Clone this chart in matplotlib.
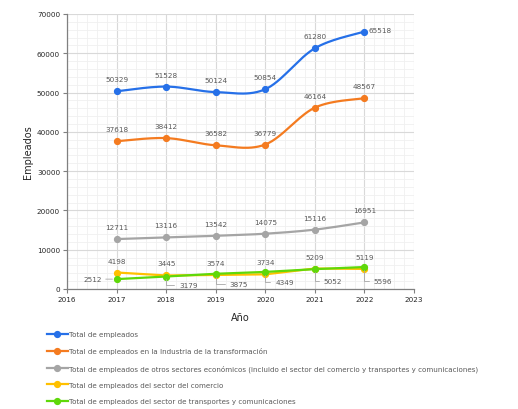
import numpy as np
import matplotlib
matplotlib.use("Agg")
import matplotlib.pyplot as plt
from matplotlib.ticker import MultipleLocator

years = [2017, 2018, 2019, 2020, 2021, 2022]
total = [50329, 51528, 50124, 50854, 61280, 65518]
industria = [37618, 38412, 36582, 36779, 46164, 48567]
otros = [12711, 13116, 13542, 14075, 15116, 16951]
comercio = [4198, 3445, 3574, 3734, 5209, 5119]
transportes = [2512, 3179, 3875, 4349, 5052, 5596]

labels = [
    "Total de empleados",
    "Total de empleados en la Industria de la transformación",
    "Total de empleados de otros sectores económicos (incluido el sector del comercio y transportes y comunicaciones)",
    "Total de empleados del sector del comercio",
    "Total de empleados del sector de transportes y comunicaciones",
]
colors = ["#2670E8", "#F47B20", "#A5A5A5", "#FFC000", "#5FD80A"]


def smooth(x, y, n=30):
    x = np.asarray(x, float)
    y = np.asarray(y, float)
    P = np.column_stack([x, y])
    Pe = np.vstack([P[0], P, P[-1]])
    out = []
    t = np.linspace(0, 1, n)[:, None]
    for i in range(len(P) - 1):
        p0, p1, p2, p3 = Pe[i], Pe[i + 1], Pe[i + 2], Pe[i + 3]
        c1 = p1 + (p2 - p0) / 6
        c2 = p2 - (p3 - p1) / 6
        seg = ((1 - t) ** 3) * p1 + 3 * ((1 - t) ** 2) * t * c1 + 3 * (1 - t) * t ** 2 * c2 + t ** 3 * p2
        out.append(seg if i == 0 else seg[1:])
    s = np.vstack(out)
    return s[:, 0], s[:, 1]


fig = plt.figure(figsize=(5.18, 4.10), dpi=100)
ax = fig.add_axes([67 / 518, 1 - 290 / 410, 347 / 518, 275 / 410])

series = [total, industria, otros, comercio, transportes]
smoothflags = [True, True, True, False, False]
handles = []
for vals, c, lab, sm in zip(series, colors, labels, smoothflags):
    if sm:
        sx, sy = smooth(years, vals)
    else:
        sx, sy = years, vals
    ax.plot(sx, sy, color=c, lw=1.6, zorder=3, solid_capstyle="round")
    ax.plot(years, vals, 'o', color=c, ms=4.2, zorder=4)
    h, = ax.plot([], [], '-o', color=c, lw=1.6, ms=4.2, label=lab)
    handles.append(h)

ax.set_xlim(2016, 2023)
ax.set_ylim(0, 70000)
ax.xaxis.set_major_locator(MultipleLocator(1))
ax.xaxis.set_minor_locator(MultipleLocator(0.2))
ax.yaxis.set_major_locator(MultipleLocator(10000))
ax.yaxis.set_minor_locator(MultipleLocator(2000))
ax.grid(which="major", color="#D9D9D9", lw=0.8, zorder=0)
ax.grid(which="minor", color="#F0F0F0", lw=0.6, zorder=0)
ax.set_axisbelow(True)
for s in ["top", "right"]:
    ax.spines[s].set_visible(False)
for s in ["left", "bottom"]:
    ax.spines[s].set_color("#808080")
    ax.spines[s].set_linewidth(0.9)
ax.tick_params(which="minor", length=0)
ax.tick_params(which="major", length=3, width=0.8, color="#808080", labelsize=5.2, labelcolor="#262626", pad=2)

ax.set_xlabel("Año", fontsize=7, color="#262626", labelpad=7)
ax.set_ylabel("Empleados", fontsize=7, color="#262626", labelpad=3)

lab_kw = dict(textcoords="offset pixels", fontsize=5.2, color="#595959", zorder=5)
# above labels
for vals in [total, industria, otros, comercio]:
    for i, (x, v) in enumerate(zip(years, vals)):
        if vals is total and i == 5:
            ax.annotate(str(v), (x, v), xytext=(4, 2), ha="left", va="center", **lab_kw)
        else:
            ax.annotate(str(v), (x, v), xytext=(0, 12), ha="center", va="center", **lab_kw)

# transport labels with leader lines
tdx = [0, 13, 14, 10, 9, 9]
tdy = [0, -8, -10.5, -10.5, -11.5, -14]
for i, (x, v) in enumerate(zip(years, transportes)):
    if i == 0:
        ax.annotate(str(v), (x, v), xytext=(-15, 0), ha="right", va="center",
                    arrowprops=dict(arrowstyle="-", color="#A6A6A6", lw=0.6, shrinkA=1, shrinkB=3), **lab_kw)
    else:
        ax.annotate(str(v), (x, v), xytext=(tdx[i], tdy[i]), ha="left", va="center",
                    arrowprops=dict(arrowstyle="-", color="#A6A6A6", lw=0.6, shrinkA=1.5, shrinkB=2,
                                    connectionstyle="angle,angleA=0,angleB=90,rad=0"), **lab_kw)

fig.legend(handles=handles, loc="upper left", bbox_to_anchor=(47 / 518, 1 - 332 / 410),
           frameon=False, fontsize=5.15, labelcolor="#595959", handlelength=2.9,
           handletextpad=0.15, labelspacing=1.42, borderaxespad=0, borderpad=0)

fig.savefig("out.png", dpi=100)
